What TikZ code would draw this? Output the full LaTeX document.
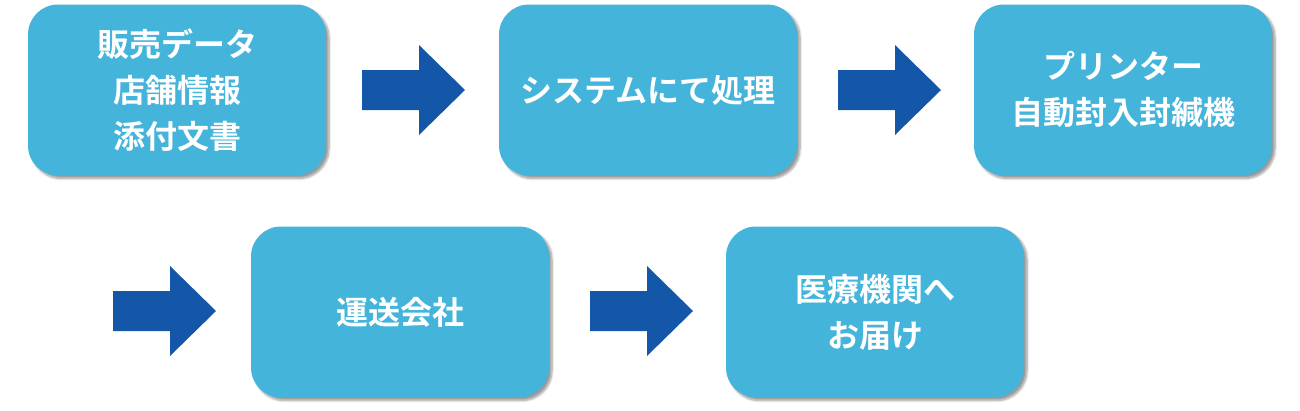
\documentclass[tikz,border=0pt]{standalone}
\usepackage{fontspec}
\setmainfont{Noto Sans CJK JP}[BoldFont={Noto Sans CJK JP Bold}]
\usetikzlibrary{shadows.blur}
\definecolor{boxc}{HTML}{44B4DB}
\definecolor{arrc}{HTML}{1457A8}
\begin{document}
\begin{tikzpicture}[x=1pt,y=-1pt,
  box/.style={draw=none,fill=boxc,rounded corners=30pt,minimum width=298pt,minimum height=171pt,
    text=white,font=\bfseries\fontsize{32}{46}\selectfont,align=center,
    blur shadow={shadow xshift=3pt,shadow yshift=-3pt,shadow blur steps=8,shadow opacity=40}},
  arr/.style={fill=arrc,draw=none},
  pics/bigarrow/.style={code={\fill[arr] (0,-20) -- (57,-20) -- (57,-45) -- (103,0) -- (57,45) -- (57,20) -- (0,20) -- cycle;}}]
\useasboundingbox (0,0) rectangle (1300,410);
\node[box] (b1) at (177,90) {販売データ\\店舗情報\\添付文書};
\node[box] (b2) at (648,90) {システムにて処理};
\node[box] (b3) at (1123,90) {プリンター\\自動封入封緘機};
\node[box] (b4) at (400,312) {運送会社};
\node[box] (b5) at (875,312) {医療機関へ\\お届け};
\coordinate (a1) at (362,90);
\coordinate (a2) at (838,90);
\coordinate (a3) at (113,311);
\coordinate (a4) at (590,311);
\pic at (a1) {bigarrow};
\pic at (a2) {bigarrow};
\pic at (a3) {bigarrow};
\pic at (a4) {bigarrow};
\end{tikzpicture}
\end{document}
